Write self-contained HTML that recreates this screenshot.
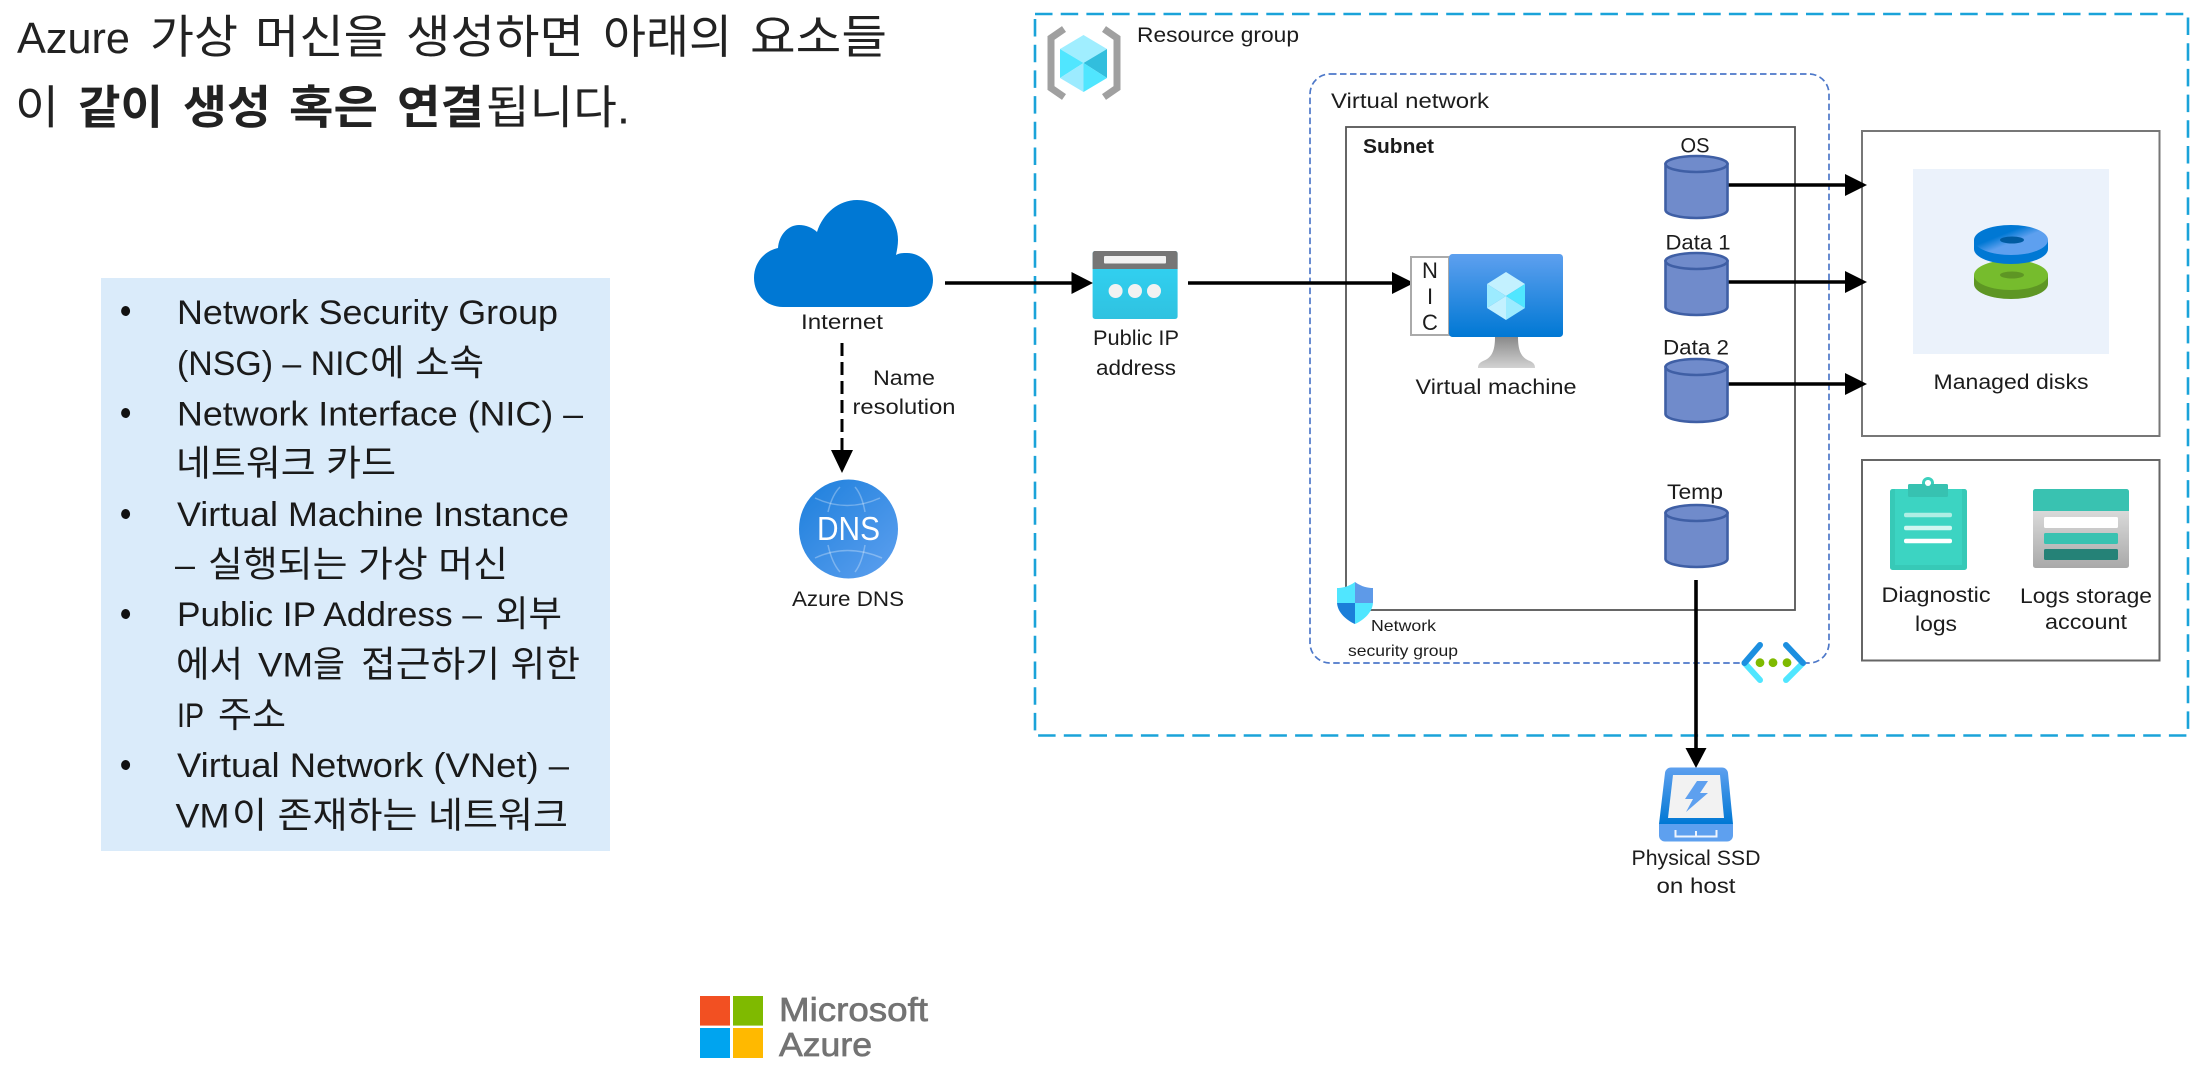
<!DOCTYPE html>
<html lang="ko">
<head>
<meta charset="utf-8">
<title>Azure VM</title>
<style>
html,body{margin:0;padding:0;background:#fff;width:2202px;height:1077px;overflow:hidden}
svg{display:block}
text{font-family:"Liberation Sans","Noto Sans CJK KR",sans-serif;fill:#1c1c1c}
.l{font-size:21px;text-anchor:middle}
.t{font-size:46px;fill:#222}
.b{font-size:34px;fill:#1a1a1a}
.h{font-size:36px;fill:#1a1a1a}
.s{font-size:16px}
</style>
</head>
<body>
<svg width="2202" height="1077" viewBox="0 0 2202 1077" xmlns="http://www.w3.org/2000/svg">
<defs>
<linearGradient id="vm" x1="0" y1="0" x2="0" y2="1"><stop offset="0" stop-color="#5ea0ef"/><stop offset="1" stop-color="#0078d4"/></linearGradient>
<linearGradient id="stand" x1="0" y1="0" x2="0" y2="1"><stop offset="0" stop-color="#8a8a8a"/><stop offset="1" stop-color="#d2d2d2"/></linearGradient>
<linearGradient id="ip" x1="0" y1="0" x2="0" y2="1"><stop offset="0" stop-color="#32d4f5"/><stop offset="1" stop-color="#2fc2e0"/></linearGradient>
<linearGradient id="dns" x1="0" y1="0" x2="1" y2="1"><stop offset="0" stop-color="#1c7fdc"/><stop offset="1" stop-color="#5ea0ef"/></linearGradient>
<linearGradient id="disk" x1="0" y1="0" x2="1" y2="1"><stop offset="0.35" stop-color="#0078d4"/><stop offset="0.55" stop-color="#5ea0ef"/></linearGradient>
<linearGradient id="stor" x1="0" y1="0" x2="0" y2="1"><stop offset="0" stop-color="#ececec"/><stop offset="1" stop-color="#a9a9a9"/></linearGradient>
<clipPath id="sh"><path d="M1355 582C1362 587 1368 588 1373 588L1373 602C1373 612 1364 620 1355 624C1346 620 1337 612 1337 602L1337 588C1342 588 1348 587 1355 582Z"/></clipPath>
</defs>

<!-- title -->
<text x="17" y="53" font-size="44" style="fill:#222" textLength="113" lengthAdjust="spacingAndGlyphs">Azure</text>
<text class="t" x="150" y="53" textLength="88" lengthAdjust="spacingAndGlyphs">가상</text>
<text class="t" x="255" y="53" textLength="133" lengthAdjust="spacingAndGlyphs">머신을</text>
<text class="t" x="406" y="53" textLength="178" lengthAdjust="spacingAndGlyphs">생성하면</text>
<text class="t" x="603" y="53" textLength="129" lengthAdjust="spacingAndGlyphs">아래의</text>
<text class="t" x="750" y="53" textLength="137" lengthAdjust="spacingAndGlyphs">요소들</text>
<text class="t" x="15" y="123.5" textLength="44" lengthAdjust="spacingAndGlyphs">이</text>
<text class="t" x="78" y="123.5" font-weight="700" textLength="85" lengthAdjust="spacingAndGlyphs">같이</text>
<text class="t" x="183" y="123.5" font-weight="700" textLength="88" lengthAdjust="spacingAndGlyphs">생성</text>
<text class="t" x="289" y="123.5" font-weight="700" textLength="89" lengthAdjust="spacingAndGlyphs">혹은</text>
<text class="t" x="397" y="123.5" font-weight="700" textLength="87" lengthAdjust="spacingAndGlyphs">연결</text>
<text class="t" x="486" y="123.5" textLength="144" lengthAdjust="spacingAndGlyphs">됩니다.</text>

<!-- list -->
<rect x="101" y="278" width="509" height="573" fill="#daebfa"/>
<g fill="#111">
<ellipse cx="125.6" cy="311" rx="4.5" ry="5"/>
<ellipse cx="125.6" cy="413" rx="4.5" ry="5"/>
<ellipse cx="125.6" cy="514" rx="4.5" ry="5"/>
<ellipse cx="125.6" cy="614" rx="4.5" ry="5"/>
<ellipse cx="125.6" cy="765" rx="4.5" ry="5"/>
</g>
<text class="b" x="177" y="324" textLength="381" lengthAdjust="spacingAndGlyphs">Network Security Group</text>
<text class="b" x="177" y="375" textLength="192" lengthAdjust="spacingAndGlyphs">(NSG) – NIC</text>
<text class="h" x="370" y="375" textLength="114" lengthAdjust="spacingAndGlyphs">에 소속</text>
<text class="b" x="177" y="425.5" textLength="406" lengthAdjust="spacingAndGlyphs">Network Interface (NIC) –</text>
<text class="h" x="176" y="475.5" textLength="220" lengthAdjust="spacingAndGlyphs">네트워크 카드</text>
<text class="b" x="177" y="526" textLength="392" lengthAdjust="spacingAndGlyphs">Virtual Machine Instance</text>
<text class="b" x="175" y="576.5" textLength="20" lengthAdjust="spacingAndGlyphs">–</text>
<text class="h" x="208" y="576.5" textLength="300" lengthAdjust="spacingAndGlyphs">실행되는 가상 머신</text>
<text class="b" x="177" y="626" textLength="305" lengthAdjust="spacingAndGlyphs">Public IP Address –</text>
<text class="h" x="495" y="626" textLength="67" lengthAdjust="spacingAndGlyphs">외부</text>
<text class="h" x="176" y="676.5" textLength="67" lengthAdjust="spacingAndGlyphs">에서</text>
<text class="b" x="258" y="676.5" textLength="55" lengthAdjust="spacingAndGlyphs">VM</text>
<text class="h" x="313" y="676.5" textLength="32" lengthAdjust="spacingAndGlyphs">을</text>
<text class="h" x="361" y="676.5" textLength="219" lengthAdjust="spacingAndGlyphs">접근하기 위한</text>
<text class="b" x="177" y="727" textLength="27" lengthAdjust="spacingAndGlyphs">IP</text>
<text class="h" x="218" y="727" textLength="68" lengthAdjust="spacingAndGlyphs">주소</text>
<text class="b" x="177" y="777" textLength="392" lengthAdjust="spacingAndGlyphs">Virtual Network (VNet) –</text>
<text class="b" x="175.5" y="827.5" textLength="54" lengthAdjust="spacingAndGlyphs">VM</text>
<text class="h" x="232" y="827.5" textLength="336" lengthAdjust="spacingAndGlyphs">이 존재하는 네트워크</text>

<!-- containers -->
<rect x="1035" y="14" width="1153" height="721.5" fill="none" stroke="#1aa3d9" stroke-width="2.6" stroke-dasharray="17.5 8.2"/>
<rect x="1310" y="74" width="519" height="589" rx="20" fill="none" stroke="#4d78c9" stroke-width="1.7" stroke-dasharray="6.5 3.5"/>
<rect x="1346" y="127" width="449" height="483" fill="none" stroke="#555" stroke-width="1.8"/>
<rect x="1862" y="131" width="297.5" height="305" fill="none" stroke="#777" stroke-width="2"/>
<rect x="1913" y="169" width="196" height="185" fill="#ebf2fb"/>
<rect x="1862" y="460" width="297.5" height="200.5" fill="none" stroke="#666" stroke-width="2"/>

<!-- connector lines -->
<g stroke="#000" stroke-width="3.6" fill="none">
<line x1="945" y1="283" x2="1075" y2="283"/>
<line x1="1188" y1="283" x2="1396" y2="283"/>
<line x1="1728" y1="185" x2="1850" y2="185"/>
<line x1="1728" y1="282" x2="1850" y2="282"/>
<line x1="1728" y1="384" x2="1850" y2="384"/>
<line x1="1696" y1="580" x2="1696" y2="752"/>
<line x1="842" y1="343" x2="842" y2="452" stroke-width="3" stroke-dasharray="13 6"/>
</g>
<g fill="#000">
<polygon points="1071.5,272 1093,283 1071.5,294"/>
<polygon points="1392,272 1414,283 1392,294"/>
<polygon points="1845,174 1867,185 1845,196"/>
<polygon points="1845,271 1867,282 1845,293"/>
<polygon points="1845,373 1867,384 1845,395"/>
<polygon points="1685.5,748 1706.5,748 1696,768"/>
<polygon points="831,450 853,450 842,473"/>
</g>

<!-- RG labels + icon -->
<text x="1137" y="42" font-size="21" textLength="162" lengthAdjust="spacingAndGlyphs">Resource group</text>
<text x="1331" y="108" font-size="21" textLength="158" lengthAdjust="spacingAndGlyphs">Virtual network</text>
<text x="1363" y="153" font-size="20" font-weight="700" textLength="71" lengthAdjust="spacingAndGlyphs">Subnet</text>
<g fill="none" stroke="#a0a0a0" stroke-width="7">
<polyline points="1064,29 1051,38 1051,88 1064,97"/>
<polyline points="1104,29 1117,38 1117,88 1104,97"/>
</g>
<polygon points="1083.5,35 1107,49 1083.5,63 1060,49" fill="#a0eeff"/>
<polygon points="1060,49 1083.5,63 1060,78" fill="#50e6ff"/>
<polygon points="1060,78 1083.5,63 1083.5,92" fill="#9cebff"/>
<polygon points="1107,49 1083.5,63 1107,78" fill="#32bedd"/>
<polygon points="1107,78 1083.5,63 1083.5,92" fill="#50e6ff"/>

<!-- Internet -->
<path d="M783 307C766 307 754 294 754 278C754 263 764 251 778 248C779 235 788 225 799 225C806 225 813 228 817 232C823 213 839 200 857 200C880 200 898 218 898 240C898 245 897 250 896 255C899 253 903 253 907 253C921 253 933 265 933 280C933 295 921 307 907 307Z" fill="#0078d4"/>
<text class="l" x="842" y="329" textLength="82" lengthAdjust="spacingAndGlyphs">Internet</text>
<text class="l" x="904" y="385" textLength="62" lengthAdjust="spacingAndGlyphs">Name</text>
<text class="l" x="904" y="414" textLength="103" lengthAdjust="spacingAndGlyphs">resolution</text>

<!-- DNS -->
<circle cx="848.5" cy="529" r="49.5" fill="url(#dns)"/>
<g fill="none" stroke="#ffffff" stroke-opacity=".3" stroke-width="1.5">
<path d="M815 498Q847 513 880 498"/>
<path d="M815 558Q847 543 882 558"/>
<path d="M828 512Q832 495 840 487"/>
<path d="M865 512Q862 495 855 487"/>
<path d="M828 545Q832 563 840 572"/>
<path d="M865 545Q862 563 855 572"/>
</g>
<text x="848.5" y="540" font-size="33" text-anchor="middle" style="fill:#fff" textLength="63" lengthAdjust="spacingAndGlyphs">DNS</text>
<text class="l" x="848" y="606" textLength="112" lengthAdjust="spacingAndGlyphs">Azure DNS</text>

<!-- Public IP -->
<rect x="1092.6" y="251" width="85" height="68" rx="2.5" fill="url(#ip)"/>
<path d="M1092.6 269V253.5a2.5 2.5 0 0 1 2.5-2.5h80a2.5 2.5 0 0 1 2.5 2.5V269Z" fill="#767676"/>
<rect x="1104" y="256" width="62" height="7.5" rx="1" fill="#f2f2f2"/>
<circle cx="1115.6" cy="291" r="7" fill="#f2f2f2"/>
<circle cx="1135" cy="291" r="7" fill="#f2f2f2"/>
<circle cx="1154" cy="291" r="7" fill="#f2f2f2"/>
<text class="l" x="1136" y="345" textLength="86" lengthAdjust="spacingAndGlyphs">Public IP</text>
<text class="l" x="1136" y="375" textLength="80" lengthAdjust="spacingAndGlyphs">address</text>

<!-- NIC + VM -->
<rect x="1411" y="257" width="38" height="78" fill="#fff" stroke="#aaa" stroke-width="2"/>
<text x="1430" y="278" font-size="22" text-anchor="middle">N</text>
<text x="1430" y="304" font-size="22" text-anchor="middle">I</text>
<text x="1430" y="330" font-size="22" text-anchor="middle">C</text>
<path d="M1495 337H1518C1518 352 1522 358 1530 361C1534 363 1535 365 1535 368H1478C1478 365 1479 363 1483 361C1491 358 1495 352 1495 337Z" fill="url(#stand)"/>
<rect x="1449" y="254" width="114" height="83" rx="3.5" fill="url(#vm)"/>
<polygon points="1506,272 1525,284 1506,296 1487,284" fill="#c3f1ff"/>
<polygon points="1487,284 1506,296 1487,308" fill="#9cebff"/>
<polygon points="1487,308 1506,296 1506,320" fill="#c3f1ff"/>
<polygon points="1525,284 1506,296 1525,308" fill="#50e6ff"/>
<polygon points="1525,308 1506,296 1506,320" fill="#9cebff"/>
<text class="l" x="1496" y="394" textLength="161" lengthAdjust="spacingAndGlyphs">Virtual machine</text>

<!-- cylinders -->
<g fill="#708bcb" stroke="#3f5fa5" stroke-width="2.6">
<path d="M1665.5 164v46a31 8 0 0 0 62 0v-46Z"/><ellipse cx="1696.5" cy="164" rx="31" ry="8"/>
<path d="M1665.5 261v46a31 8 0 0 0 62 0v-46Z"/><ellipse cx="1696.5" cy="261" rx="31" ry="8"/>
<path d="M1665.5 367v47a31 8 0 0 0 62 0v-47Z"/><ellipse cx="1696.5" cy="367" rx="31" ry="8"/>
<path d="M1665.5 513v46a31 8 0 0 0 62 0v-46Z"/><ellipse cx="1696.5" cy="513" rx="31" ry="8"/>
</g>
<text class="l" x="1695" y="152.5" textLength="29" lengthAdjust="spacingAndGlyphs">OS</text>
<text class="l" x="1698" y="249.5" textLength="65" lengthAdjust="spacingAndGlyphs">Data 1</text>
<text class="l" x="1696" y="354.5" textLength="66" lengthAdjust="spacingAndGlyphs">Data 2</text>
<text class="l" x="1695" y="499" textLength="56" lengthAdjust="spacingAndGlyphs">Temp</text>

<!-- managed disks -->
<path d="M1974 275v9a37 15 0 0 0 74 0v-9Z" fill="#5e9624"/>
<ellipse cx="2011" cy="275" rx="37" ry="15" fill="#76bc2d"/>
<ellipse cx="2012" cy="275" rx="12" ry="3.5" fill="#5e9624"/>
<path d="M1974 240v9a37 15 0 0 0 74 0v-9Z" fill="#0078d4"/>
<ellipse cx="2011" cy="240" rx="37" ry="15" fill="url(#disk)"/>
<ellipse cx="2012" cy="240" rx="12" ry="3.5" fill="#005ba1"/>
<text class="l" x="2011" y="389" textLength="155" lengthAdjust="spacingAndGlyphs">Managed disks</text>

<!-- diagnostics -->
<rect x="1890" y="489" width="77" height="81" rx="2.5" fill="#37c9b7"/>
<rect x="1895" y="489" width="67" height="76" fill="#3cd4c2"/>
<circle cx="1928" cy="483" r="4.5" fill="#fff" stroke="#3cd0bd" stroke-width="3"/>
<rect x="1908" y="484" width="40" height="13" rx="1.5" fill="#37c2b1"/>
<circle cx="1928" cy="483" r="3" fill="#fff"/>
<rect x="1904" y="512.7" width="48" height="4.6" rx="2" fill="#aeeee4"/>
<rect x="1904" y="525.7" width="48" height="4.6" rx="2" fill="#d0f6f0"/>
<rect x="1904" y="538.7" width="48" height="4.6" rx="2" fill="#fff"/>
<text class="l" x="1936" y="602" textLength="109" lengthAdjust="spacingAndGlyphs">Diagnostic</text>
<text class="l" x="1936" y="631" textLength="42" lengthAdjust="spacingAndGlyphs">logs</text>

<rect x="2033" y="489" width="96" height="79" rx="2.5" fill="url(#stor)"/>
<path d="M2033 511V491.5a2.5 2.5 0 0 1 2.5-2.5h91a2.5 2.5 0 0 1 2.5 2.5V511Z" fill="#39c2b1"/>
<rect x="2044" y="517" width="74" height="11" rx="1.5" fill="#fff"/>
<rect x="2044" y="533" width="74" height="11" rx="1.5" fill="#39c2b1"/>
<rect x="2044" y="549" width="74" height="11" rx="1.5" fill="#258277"/>
<text class="l" x="2086" y="603" textLength="132" lengthAdjust="spacingAndGlyphs">Logs storage</text>
<text class="l" x="2086" y="629" textLength="82" lengthAdjust="spacingAndGlyphs">account</text>

<!-- NSG -->
<g clip-path="url(#sh)">
<rect x="1337" y="582" width="18" height="21" fill="#50e6ff"/>
<rect x="1355" y="582" width="18" height="21" fill="#5e9ae8"/>
<rect x="1337" y="603" width="18" height="21" fill="#1b7fd9"/>
<rect x="1355" y="603" width="18" height="21" fill="#50e6ff"/>
</g>
<text class="s" x="1371" y="631" textLength="65" lengthAdjust="spacingAndGlyphs">Network</text>
<text class="s" x="1348" y="656" textLength="110" lengthAdjust="spacingAndGlyphs">security group</text>

<!-- VNet icon -->
<rect x="1742" y="659" width="63" height="8" fill="#fff"/>
<g fill="none" stroke-width="6" stroke-linecap="round">
<line x1="1744.5" y1="663" x2="1760" y2="680" stroke="#50e6ff"/>
<line x1="1760" y1="645" x2="1744.5" y2="663" stroke="#1c8fe0"/>
<line x1="1803" y1="663" x2="1786" y2="680" stroke="#50e6ff"/>
<line x1="1786" y1="645" x2="1803" y2="663" stroke="#1c8fe0"/>
</g>
<g fill="#7fba00">
<circle cx="1760" cy="662.7" r="4.4"/>
<circle cx="1773" cy="662.7" r="4.4"/>
<circle cx="1787" cy="662.7" r="4.4"/>
</g>

<!-- SSD -->
<path d="M1671 767.5H1722a6 6 0 0 1 6 5.5L1733 824H1659L1665 773a6 6 0 0 1 6-5.5Z" fill="url(#vm)"/>
<polygon points="1673,775 1720,775 1724,818 1668,818" fill="#f2f2f2"/>
<polygon points="1697,781 1708,781 1700,793 1708,793 1686,812 1693,799 1685,799" fill="#5ea0ef"/>
<path d="M1659 824H1733V835.5a6 6 0 0 1-6 6H1665a6 6 0 0 1-6-6Z" fill="#5ea0ef"/>
<path d="M1675.5 830v6.5h41v-6.5M1696 831v5" fill="none" stroke="#eef4fd" stroke-width="2"/>
<text class="l" x="1696" y="865" textLength="129" lengthAdjust="spacingAndGlyphs">Physical SSD</text>
<text class="l" x="1696" y="893" textLength="79" lengthAdjust="spacingAndGlyphs">on host</text>

<!-- logo -->
<rect x="700" y="996" width="30" height="29.6" fill="#f25022"/>
<rect x="733" y="996" width="30" height="29.6" fill="#7fba00"/>
<rect x="700" y="1028" width="30" height="30" fill="#00a4ef"/>
<rect x="733" y="1028" width="30" height="30" fill="#ffb900"/>
<text x="779" y="1021" font-size="33" style="fill:#737373;stroke:#737373;stroke-width:.7" textLength="149" lengthAdjust="spacingAndGlyphs">Microsoft</text>
<text x="779" y="1056" font-size="33" style="fill:#737373;stroke:#737373;stroke-width:.7" textLength="93" lengthAdjust="spacingAndGlyphs">Azure</text>
</svg>
</body>
</html>
